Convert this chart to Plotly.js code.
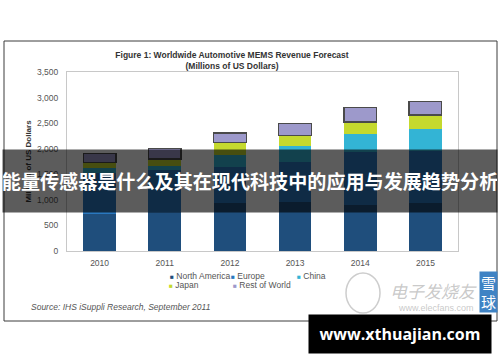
<!DOCTYPE html>
<html>
<head>
<meta charset="utf-8">
<script src="https://cdn.plot.ly/plotly-3.0.1.min.js"></script>
<style>
  html, body { margin: 0; padding: 0; background: #fff; }
  #chart { width: 500px; height: 362px; }
</style>
</head>
<body>
<div id="chart"></div>
<script>
// ---- data ----
const years = ['2010', '2011', '2012', '2013', '2014', '2015'];
const northAmerica = [720, 770, 940, 960, 900, 930];
const europe = [805, 815, 705, 785, 1035, 1025];
const china = [90, 80, 235, 305, 345, 425];
const japan = [110, 135, 235, 215, 245, 280];
const restOfWorld = [185, 200, 190, 230, 285, 260];
const seriesNames = ['North America', 'Europe', 'China', 'Japan', 'Rest of World'];
const yTickValues = [0, 500, 1000, 1500, 2000, 2500, 3000, 3500];

const chartTitle = 'Figure 1: Worldwide Automotive MEMS Revenue Forecast';
const chartSubtitle = '(Millions of US Dollars)';
const yTitle = 'Millions of US Dollars';
const sourceText = 'Source: IHS iSuppli Research, September 2011';
const bannerText = '能量传感器是什么及其在现代科技中的应用与发展趋势分析';
const siteText = 'www.xthuajian.com';

// ---- styles ----
const colors = ['#1f4e7c', '#2a78bf', '#33b4d5', '#c5d92e', '#9d99cb'];
const seriesValues = [northAmerica, europe, china, japan, restOfWorld];

// plot area in pixels: x 67..458, y 72..251
const L = 67, R = 458, T = 72, B = 251;
const px = x => (x - L) / (R - L);
const py = y => (B - y) / (B - T);

const traces = seriesValues.map((vals, i) => ({
  type: 'bar',
  name: seriesNames[i],
  x: years,
  y: vals,
  marker: {
    color: colors[i],
    line: i === 4 ? {color: '#4a4a4a', width: 1.3} : {width: 0}
  },
  showlegend: false,
  hoverinfo: 'x+y+name'
}));

// legend built from series names / colours (3 columns, 2 rows)
const legendPos = [[168, 276], [229, 276], [295, 276], [167, 285], [231, 285]];
const legendAnn = seriesNames.map((n, i) => ({
  xref: 'paper', yref: 'paper',
  x: px(legendPos[i][0]), y: py(legendPos[i][1]),
  xanchor: 'left', yanchor: 'middle', showarrow: false,
  text: '<span style="color:' + colors[i] + ';font-size:6.5px">■</span> ' + n,
  font: {family: 'Liberation Sans, Arial, sans-serif', size: 8.5, color: '#555'}
}));

const layout = {
  width: 500, height: 362,
  margin: {l: L, r: 500 - R, t: T, b: 362 - B},
  paper_bgcolor: '#ffffff',
  plot_bgcolor: '#ffffff',
  barmode: 'stack',
  bargap: 0.5,
  showlegend: false,
  font: {family: 'Liberation Sans, Arial, sans-serif', size: 8, color: '#555'},
  title: {
    text: '<b>' + chartTitle + '</b><br><b>' + chartSubtitle + '</b>',
    x: 232 / 500, xref: 'container', xanchor: 'center',
    y: 1 - 58 / 362, yref: 'container', yanchor: 'top',
    font: {family: 'Liberation Sans, Arial, sans-serif', size: 8.5, color: '#333'}
  },
  xaxis: {
    type: 'category',
    showline: true, mirror: true, linecolor: '#c8c8c8', linewidth: 1,
    showgrid: false, zeroline: false, ticks: '',
    tickfont: {size: 8.5, color: '#555'},
    ticklabelstandoff: 4
  },
  yaxis: {
    range: [0, 3500],
    tickvals: yTickValues,
    tickformat: ',d',
    showline: true, mirror: true, linecolor: '#c8c8c8', linewidth: 1,
    showgrid: false, zeroline: false, ticks: '',
    tickfont: {size: 8.5, color: '#555'},
    ticklabelstandoff: 6,
    title: {
      text: '<b>' + yTitle + '</b>',
      font: {size: 8, color: '#333'},
      standoff: 4
    }
  },
  shapes: [
    {type: 'rect', xref: 'paper', yref: 'paper', layer: 'below',
     x0: px(4), x1: px(497), y0: py(321), y1: py(41),
     line: {color: '#3c3c3c', width: 1}, fillcolor: 'rgba(0,0,0,0)'},
    // faint watermark logo circle
    {type: 'circle', xref: 'paper', yref: 'paper', layer: 'above',
     x0: px(346), x1: px(380), y0: py(313), y1: py(273),
     line: {color: 'rgba(200,200,200,0.9)', width: 1.5}, fillcolor: 'rgba(0,0,0,0)'}
  ],
  annotations: legendAnn.concat([
    {xref: 'paper', yref: 'paper', x: px(29), y: py(307), xanchor: 'left', yanchor: 'middle',
     showarrow: false, text: '<i>' + sourceText + '</i>',
     font: {family: 'Liberation Sans, Arial, sans-serif', size: 8.5, color: '#555'}},
    // watermark text
    {xref: 'paper', yref: 'paper', x: px(433), y: py(290), xanchor: 'center', yanchor: 'middle',
     showarrow: false, text: '<i>电子发烧友</i>',
     font: {family: 'Noto Sans CJK SC, sans-serif', size: 17, color: 'rgba(195,195,195,0.9)'}},
    {xref: 'paper', yref: 'paper', x: px(436), y: py(308), xanchor: 'center', yanchor: 'middle',
     showarrow: false, text: 'www.elecfans.com',
     font: {family: 'Liberation Sans, Arial, sans-serif', size: 9, color: 'rgba(195,195,195,0.9)'}},
    // blue badge
    {xref: 'paper', yref: 'paper', x: px(488), y: py(292), xanchor: 'center', yanchor: 'middle',
     showarrow: false, text: '雪<br>球', bgcolor: '#3f83c4', width: 17, height: 40, borderpad: 0,
     font: {family: 'Noto Sans CJK SC, sans-serif', size: 15, color: '#ffffff'}},
    // overlay banner
    {xref: 'paper', yref: 'paper', x: px(250), y: py(181), xanchor: 'center', yanchor: 'middle',
     showarrow: false, text: '<b>' + bannerText + '</b>',
     bgcolor: 'rgba(0,0,0,0.64)', width: 494, height: 62, borderpad: 0,
     font: {family: 'Noto Sans CJK SC, sans-serif', size: 19.1, color: '#ffffff'}},
    // site box
    {xref: 'paper', yref: 'paper', x: px(400), y: py(334), xanchor: 'center', yanchor: 'middle',
     showarrow: false, text: '<b>' + siteText + '</b>',
     bgcolor: '#000000', width: 182, height: 38, borderpad: 0,
     font: {family: 'Open Sans, Noto Sans, sans-serif', size: 16, color: '#ffffff'}}
  ])
};

Plotly.newPlot('chart', traces, layout, {displayModeBar: false, staticPlot: true});
</script>
</body>
</html>
